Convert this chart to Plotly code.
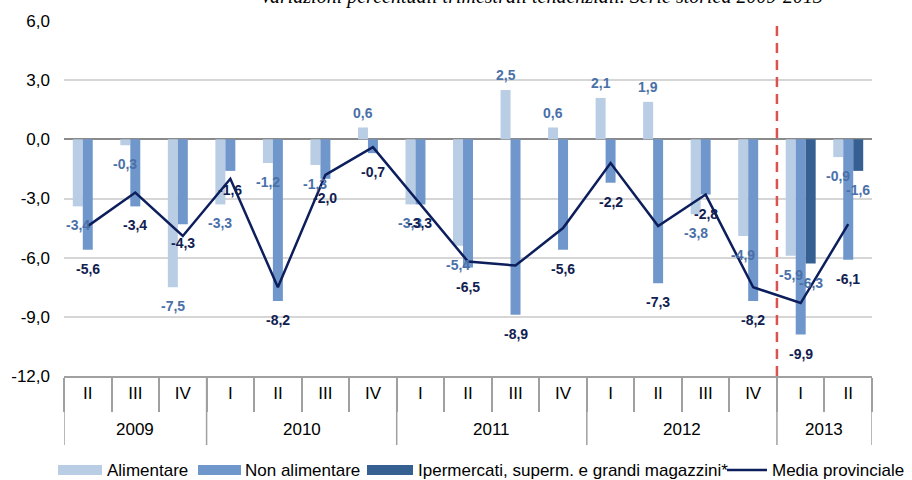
import plotly.graph_objects as go

years = ['2009'] * 3 + ['2010'] * 4 + ['2011'] * 4 + ['2012'] * 4 + ['2013'] * 2
quarters = ['II', 'III', 'IV', 'I', 'II', 'III', 'IV', 'I', 'II', 'III', 'IV',
            'I', 'II', 'III', 'IV', 'I', 'II']

alimentare = [-3.4, -0.3, -7.5, -3.3, -1.2, -1.3, 0.6, -3.3, -5.4, 2.5, 0.6,
              2.1, 1.9, -3.8, -4.9, -5.9, -0.9]
non_alimentare = [-5.6, -3.4, -4.3, -1.6, -8.2, -2.0, -0.7, -3.3, -6.5, -8.9, -5.6,
                  -2.2, -7.3, -2.8, -8.2, -9.9, -6.1]
ipermercati = [None] * 15 + [-6.3, -1.6]
media_provinciale = [-4.4, -2.7, -4.9, -2.0, -7.5, -1.8, -0.4, -3.3, -6.2, -6.4, -4.5,
                     -1.2, -4.4, -2.8, -7.5, -8.3, -4.3]

names = ['Alimentare', 'Non alimentare', 'Ipermercati, superm. e grandi magazzini*',
         'Media provinciale']
title_text = 'Variazioni percentuali trimestrali tendenziali. Serie storica 2009-2013'
y_ticks = [6, 3, 0, -3, -6, -9, -12]
y_ticktext = [f'{v:.1f}'.replace('.', ',') for v in y_ticks]

C_ALI = '#B9CDE5'
C_NON = '#7097CB'
C_IPE = '#376092'
C_LINE = '#0C1E5B'
C_LAB_LIGHT = '#4A70A8'
C_LAB_DARK = '#102050'
C_RED = '#D9534F'
C_AX = '#A0A0A0'
FONT = 'Liberation Sans, Arial, sans-serif'

W, H = 912, 480
ML, MR, MT, MB = 64, 40, 21, 104
PW, PH = W - ML - MR, H - MT - MB


def px_x(p):  # pixel -> paper x
    return (p - ML) / PW


def px_y(p):  # pixel -> paper y
    return (H - MB - p) / PH


BARGAP = 0.37
bar_w = (1 - BARGAP) / 3
xs = list(range(len(quarters)))

fig = go.Figure()
series = [(alimentare, C_ALI, C_LAB_LIGHT), (non_alimentare, C_NON, C_LAB_DARK),
          (ipermercati, C_IPE, C_LAB_LIGHT)]
for k, (vals, col, _) in enumerate(series):
    fig.add_trace(go.Bar(x=xs, y=vals, name=names[k], marker=dict(color=col, line=dict(width=0)),
                         showlegend=False, hoverinfo='y+name'))

fig.add_trace(go.Scatter(x=xs, y=media_provinciale, name=names[3], mode='lines',
                         line=dict(color=C_LINE, width=2.5), showlegend=False))

annotations = []
shapes = []

# data labels
for k, (vals, col, lab_col) in enumerate(series):
    off = (k - 1) * bar_w
    for i, v in enumerate(vals):
        if v is None:
            continue
        annotations.append(dict(
            x=xs[i] + off, y=v, xref='x', yref='y',
            text=f'{v:.1f}'.replace('.', ','),
            showarrow=False, yanchor='middle', xanchor='center',
            yshift=15 if v > 0 else -19,
            font=dict(family=FONT, size=14, color=lab_col, weight='bold')))

# year groups: labels + dividers
groups = []
for i, y in enumerate(years):
    if groups and groups[-1][0] == y:
        groups[-1][2] = i
    else:
        groups.append([y, i, i])
bounds = sorted({g[1] - 0.5 for g in groups} | {g[2] + 0.5 for g in groups})
for b in bounds:
    shapes.append(dict(type='line', xref='x', yref='paper', x0=b, x1=b, y0=0, y1=px_y(445),
                       line=dict(color=C_AX, width=1.5)))
for y, a, b in groups:
    annotations.append(dict(x=(a + b) / 2, y=px_y(429), xref='x', yref='paper', text=y,
                            showarrow=False, xanchor='center', yanchor='middle',
                            font=dict(family=FONT, size=17, color='#000000')))

# title (partly outside the top of the page, as in the source)
annotations.append(dict(
    x=px_x(541), xref='paper', y=px_y(-4), yref='paper', text=title_text, showarrow=False,
    xanchor='center', yanchor='middle',
    font=dict(family='Liberation Serif, Times New Roman, serif', size=20, color='#000000',
              style='italic')))

# legend
leg_y = 470
leg_items = [(58, 102, 105, C_ALI, 'patch'), (198, 241, 243, C_NON, 'patch'),
             (367, 413, 416, C_IPE, 'patch'), (727, 767, 770, C_LINE, 'line')]
for (x0, x1, tx, col, kind), name in zip(leg_items, names):
    if kind == 'patch':
        shapes.append(dict(type='rect', xref='paper', yref='paper', x0=px_x(x0), x1=px_x(x1),
                           y0=px_y(leg_y - 5), y1=px_y(leg_y + 5), fillcolor=col,
                           line=dict(width=0)))
    else:
        shapes.append(dict(type='line', xref='paper', yref='paper', x0=px_x(x0), x1=px_x(x1),
                           y0=px_y(leg_y), y1=px_y(leg_y), line=dict(color=col, width=2.5)))
    annotations.append(dict(x=px_x(tx), y=px_y(leg_y), xref='paper', yref='paper', text=name,
                            showarrow=False, xanchor='left', yanchor='middle',
                            font=dict(family=FONT, size=17, color='#000000')))

# red dashed separator
shapes.append(dict(type='line', xref='x', yref='y', x0=14.5, x1=14.5, y0=-12, y1=6,
                   line=dict(color=C_RED, width=2.5, dash='10px,7px')))

fig.update_layout(
    width=W, height=H,
    margin=dict(l=ML, r=MR, t=MT, b=MB),
    paper_bgcolor='white', plot_bgcolor='white',
    barmode='group', bargap=BARGAP, bargroupgap=0,
    font=dict(family=FONT, size=17, color='#000000'),
    annotations=annotations, shapes=shapes,
    showlegend=False,
)

fig.update_xaxes(
    range=[-0.5, len(xs) - 0.5], tickvals=xs, ticktext=quarters, ticks='',
    showgrid=False, zeroline=False, showline=True, linecolor=C_AX, linewidth=1.5,
    ticklabelstandoff=1, automargin=False,
    minor=dict(tickvals=[i - 0.5 for i in range(len(xs) + 1)], ticks='outside', ticklen=34,
               tickcolor=C_AX, tickwidth=1.5, showgrid=False),
    tickfont=dict(family=FONT, size=17, color='#000000'),
)
fig.update_yaxes(
    range=[-12, 6], tickvals=y_ticks, ticktext=y_ticktext,
    showgrid=True, gridcolor='#D6D6D6', gridwidth=1.5,
    zeroline=True, zerolinecolor='#8A8A8A', zerolinewidth=2,
    ticks='', showline=False, ticklabelstandoff=13, automargin=False,
    tickfont=dict(family=FONT, size=17, color='#000000'),
)
fig.update_layout(yaxis2=dict(
    overlaying='y', anchor='free', position=15 / 17, range=[-12, 6], tickvals=y_ticks,
    ticks='outside', ticklen=6, tickcolor=C_RED, tickwidth=2, showticklabels=False,
    showgrid=False, zeroline=False, showline=False, side='left', automargin=False))

fig.write_html('out.html', config={'displayModeBar': False},
               post_script="document.body.style.margin='0px';"
                           "document.documentElement.style.overflow='hidden';")
